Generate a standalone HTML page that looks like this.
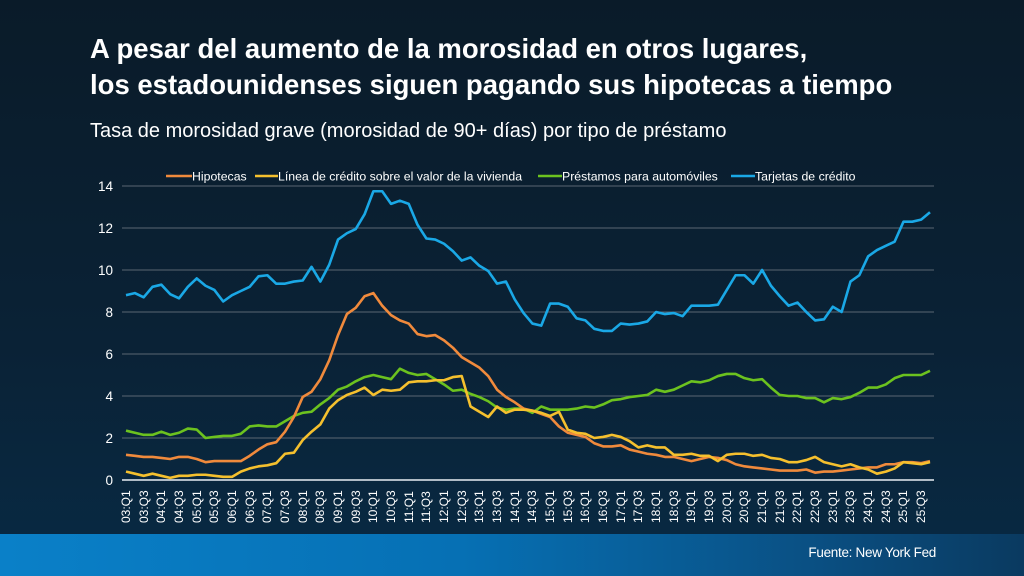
<!DOCTYPE html>
<html><head><meta charset="utf-8"><style>
html,body{margin:0;padding:0}
body{width:1024px;height:576px;overflow:hidden;background:linear-gradient(180deg,#0a1b29 0%,#0a2236 60%,#082a44 100%);font-family:"Liberation Sans",sans-serif;position:relative}
.t{position:absolute;left:90px;color:#fff;font-weight:bold;font-size:27.5px;line-height:36px;top:31px}
.s{position:absolute;left:90px;top:120px;color:#fff;font-size:20px}
.band{position:absolute;left:0;top:534px;width:1024px;height:42px;background:linear-gradient(90deg,#0a80c8 0%,#0670b4 45%,#0a4f82 80%,#0a3a60 100%)}
.src{position:absolute;right:88px;top:545px;color:#fff;font-size:13.5px;letter-spacing:-0.3px}
svg{position:absolute;left:0;top:0}
</style></head><body>
<div class="t">A pesar del aumento de la morosidad en otros lugares,<br>los estadounidenses siguen pagando sus hipotecas a tiempo</div>
<div class="s">Tasa de morosidad grave (morosidad de 90+ días) por tipo de préstamo</div>
<div class="band"></div>
<div class="src">Fuente: New York Fed</div>
<svg width="1024" height="576" font-family="Liberation Sans, sans-serif">
<g stroke="#5a6672" stroke-width="1">
<line x1="122" x2="934" y1="186" y2="186"/><line x1="122" x2="934" y1="228" y2="228"/><line x1="122" x2="934" y1="270" y2="270"/><line x1="122" x2="934" y1="312" y2="312"/><line x1="122" x2="934" y1="354" y2="354"/><line x1="122" x2="934" y1="396" y2="396"/><line x1="122" x2="934" y1="438" y2="438"/>
</g>
<line x1="122" x2="934" y1="480" y2="480" stroke="#e8eef4" stroke-width="1.5"/>
<g fill="#fff" font-size="13.5" text-anchor="end">
<text x="113" y="191">14</text><text x="113" y="233">12</text><text x="113" y="275">10</text><text x="113" y="317">8</text><text x="113" y="359">6</text><text x="113" y="401">4</text><text x="113" y="443">2</text><text x="113" y="485">0</text>
</g>
<g fill="#fff" font-size="12.3">
<line x1="166" x2="192" y1="176" y2="176" stroke="#f08a3c" stroke-width="2.5"/><text x="192" y="180.5">Hipotecas</text>
<line x1="255" x2="278" y1="176" y2="176" stroke="#f5c02e" stroke-width="2.5"/><text x="278" y="180.5">Línea de crédito sobre el valor de la vivienda</text>
<line x1="538" x2="562" y1="176" y2="176" stroke="#6cc21f" stroke-width="2.5"/><text x="562" y="180.5">Préstamos para automóviles</text>
<line x1="731" x2="755" y1="176" y2="176" stroke="#1aa8e6" stroke-width="2.5"/><text x="755" y="180.5">Tarjetas de crédito</text>
</g>
<g transform="translate(126,480) scale(8.835,-21)" fill="none" stroke-width="2.6" stroke-linejoin="round">
<polyline vector-effect="non-scaling-stroke" stroke="#6cc21f" points="0,2.35 1,2.25 2,2.15 3,2.15 4,2.3 5,2.15 6,2.25 7,2.45 8,2.4 9,2.0 10,2.05 11,2.1 12,2.1 13,2.2 14,2.55 15,2.6 16,2.55 17,2.55 18,2.8 19,3.05 20,3.2 21,3.25 22,3.6 23,3.9 24,4.3 25,4.45 26,4.7 27,4.9 28,5.0 29,4.9 30,4.8 31,5.3 32,5.1 33,5.0 34,5.05 35,4.8 36,4.55 37,4.25 38,4.3 39,4.1 40,3.95 41,3.75 42,3.45 43,3.35 44,3.4 45,3.4 46,3.2 47,3.5 48,3.35 49,3.35 50,3.35 51,3.4 52,3.5 53,3.45 54,3.6 55,3.8 56,3.85 57,3.95 58,4.0 59,4.05 60,4.3 61,4.2 62,4.3 63,4.5 64,4.7 65,4.65 66,4.75 67,4.95 68,5.05 69,5.05 70,4.85 71,4.75 72,4.8 73,4.4 74,4.05 75,4.0 76,4.0 77,3.9 78,3.9 79,3.7 80,3.9 81,3.85 82,3.95 83,4.15 84,4.4 85,4.4 86,4.55 87,4.85 88,5.0 89,5.0 90,5.0 91,5.2"/>
<polyline vector-effect="non-scaling-stroke" stroke="#f08a3c" points="0,1.2 1,1.15 2,1.1 3,1.1 4,1.05 5,1.0 6,1.1 7,1.1 8,1.0 9,0.85 10,0.9 11,0.9 12,0.9 13,0.9 14,1.15 15,1.45 16,1.7 17,1.8 18,2.3 19,3.0 20,3.95 21,4.2 22,4.8 23,5.7 24,6.9 25,7.9 26,8.2 27,8.75 28,8.9 29,8.3 30,7.85 31,7.6 32,7.45 33,6.95 34,6.85 35,6.9 36,6.65 37,6.3 38,5.85 39,5.6 40,5.35 41,4.95 42,4.3 43,3.95 44,3.7 45,3.4 46,3.3 47,3.15 48,3.0 49,2.55 50,2.25 51,2.15 52,2.05 53,1.75 54,1.6 55,1.6 56,1.65 57,1.45 58,1.35 59,1.25 60,1.2 61,1.1 62,1.1 63,1.0 64,0.9 65,1.0 66,1.1 67,1.05 68,0.95 69,0.75 70,0.65 71,0.6 72,0.55 73,0.5 74,0.45 75,0.45 76,0.45 77,0.5 78,0.35 79,0.4 80,0.4 81,0.45 82,0.5 83,0.55 84,0.6 85,0.6 86,0.75 87,0.75 88,0.85 89,0.85 90,0.8 91,0.9"/>
<polyline vector-effect="non-scaling-stroke" stroke="#f5c02e" points="0,0.4 1,0.3 2,0.2 3,0.3 4,0.2 5,0.1 6,0.2 7,0.2 8,0.25 9,0.25 10,0.2 11,0.15 12,0.15 13,0.4 14,0.55 15,0.65 16,0.7 17,0.8 18,1.25 19,1.3 20,1.9 21,2.3 22,2.65 23,3.4 24,3.8 25,4.05 26,4.2 27,4.4 28,4.05 29,4.3 30,4.25 31,4.3 32,4.65 33,4.7 34,4.7 35,4.75 36,4.75 37,4.9 38,4.95 39,3.5 40,3.25 41,3.0 42,3.5 43,3.2 44,3.35 45,3.35 46,3.3 47,3.2 48,3.05 49,3.25 50,2.4 51,2.25 52,2.2 53,2.0 54,2.05 55,2.15 56,2.05 57,1.85 58,1.55 59,1.65 60,1.55 61,1.55 62,1.2 63,1.2 64,1.25 65,1.15 66,1.15 67,0.9 68,1.2 69,1.25 70,1.25 71,1.15 72,1.2 73,1.05 74,1.0 75,0.85 76,0.85 77,0.95 78,1.1 79,0.85 80,0.75 81,0.65 82,0.75 83,0.6 84,0.5 85,0.3 86,0.4 87,0.55 88,0.85 89,0.8 90,0.75 91,0.85"/>
<polyline vector-effect="non-scaling-stroke" stroke="#1aa8e6" points="0,8.8 1,8.9 2,8.7 3,9.2 4,9.3 5,8.85 6,8.65 7,9.2 8,9.6 9,9.25 10,9.05 11,8.5 12,8.8 13,9.0 14,9.2 15,9.7 16,9.75 17,9.35 18,9.35 19,9.45 20,9.5 21,10.15 22,9.45 23,10.25 24,11.45 25,11.75 26,11.95 27,12.65 28,13.75 29,13.75 30,13.15 31,13.3 32,13.15 33,12.15 34,11.5 35,11.45 36,11.25 37,10.9 38,10.45 39,10.6 40,10.2 41,9.95 42,9.35 43,9.45 44,8.6 45,7.95 46,7.45 47,7.35 48,8.4 49,8.4 50,8.25 51,7.7 52,7.6 53,7.2 54,7.1 55,7.1 56,7.45 57,7.4 58,7.45 59,7.55 60,8.0 61,7.9 62,7.95 63,7.8 64,8.3 65,8.3 66,8.3 67,8.35 68,9.05 69,9.75 70,9.75 71,9.35 72,10.0 73,9.25 74,8.75 75,8.3 76,8.45 77,8.0 78,7.6 79,7.65 80,8.25 81,8.0 82,9.45 83,9.75 84,10.65 85,10.95 86,11.15 87,11.35 88,12.3 89,12.3 90,12.4 91,12.75"/>
</g>
<g fill="#fff" font-size="12">
<text transform="translate(130,523) rotate(-90)">03:Q1</text><text transform="translate(148,523) rotate(-90)">03:Q3</text><text transform="translate(165,523) rotate(-90)">04:Q1</text><text transform="translate(183,523) rotate(-90)">04:Q3</text><text transform="translate(201,523) rotate(-90)">05:Q1</text><text transform="translate(218,523) rotate(-90)">05:Q3</text><text transform="translate(236,523) rotate(-90)">06:Q1</text><text transform="translate(254,523) rotate(-90)">06:Q3</text><text transform="translate(271,523) rotate(-90)">07:Q1</text><text transform="translate(289,523) rotate(-90)">07:Q3</text><text transform="translate(307,523) rotate(-90)">08:Q1</text><text transform="translate(324,523) rotate(-90)">08:Q3</text><text transform="translate(342,523) rotate(-90)">09:Q1</text><text transform="translate(360,523) rotate(-90)">09:Q3</text><text transform="translate(377,523) rotate(-90)">10:Q1</text><text transform="translate(395,523) rotate(-90)">10:Q3</text><text transform="translate(413,523) rotate(-90)">11:Q1</text><text transform="translate(430,523) rotate(-90)">11:Q3</text><text transform="translate(448,523) rotate(-90)">12:Q1</text><text transform="translate(466,523) rotate(-90)">12:Q3</text><text transform="translate(483,523) rotate(-90)">13:Q1</text><text transform="translate(501,523) rotate(-90)">13:Q3</text><text transform="translate(519,523) rotate(-90)">14:Q1</text><text transform="translate(536,523) rotate(-90)">14:Q3</text><text transform="translate(554,523) rotate(-90)">15:Q1</text><text transform="translate(572,523) rotate(-90)">15:Q3</text><text transform="translate(589,523) rotate(-90)">16:Q1</text><text transform="translate(607,523) rotate(-90)">16:Q3</text><text transform="translate(625,523) rotate(-90)">17:Q1</text><text transform="translate(642,523) rotate(-90)">17:Q3</text><text transform="translate(660,523) rotate(-90)">18:Q1</text><text transform="translate(678,523) rotate(-90)">18:Q3</text><text transform="translate(695,523) rotate(-90)">19:Q1</text><text transform="translate(713,523) rotate(-90)">19:Q3</text><text transform="translate(731,523) rotate(-90)">20:Q1</text><text transform="translate(748,523) rotate(-90)">20:Q3</text><text transform="translate(766,523) rotate(-90)">21:Q1</text><text transform="translate(784,523) rotate(-90)">21:Q3</text><text transform="translate(801,523) rotate(-90)">22:Q1</text><text transform="translate(819,523) rotate(-90)">22:Q3</text><text transform="translate(837,523) rotate(-90)">23:Q1</text><text transform="translate(854,523) rotate(-90)">23:Q3</text><text transform="translate(872,523) rotate(-90)">24:Q1</text><text transform="translate(890,523) rotate(-90)">24:Q3</text><text transform="translate(907,523) rotate(-90)">25:Q1</text><text transform="translate(925,523) rotate(-90)">25:Q3</text>
</g>
</svg>
</body></html>
